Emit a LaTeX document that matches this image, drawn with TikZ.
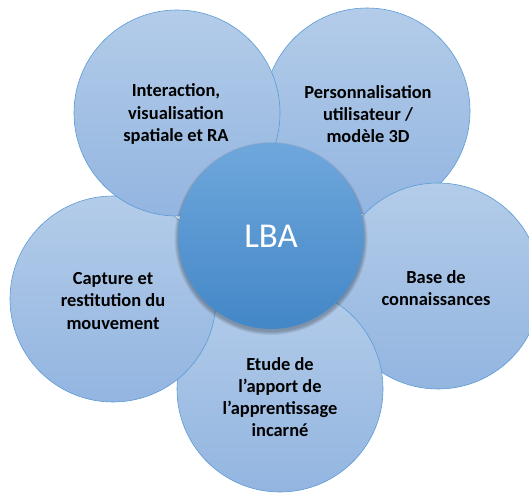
\documentclass[tikz,border=0pt]{standalone}
\usepackage{fontspec}
\setmainfont{Carlito}

\definecolor{petaltop}{HTML}{B3CCE9}
\definecolor{petalbot}{HTML}{93B5E0}
\definecolor{petalline}{HTML}{5B9BD5}
\definecolor{hubtop}{HTML}{6FA7DC}
\definecolor{hubbot}{HTML}{4387C7}

\tikzset{
  petal/.style={circle, minimum size=206bp, inner sep=0pt, draw=petalline,
    line width=0.6pt, top color=petaltop, bottom color=petalbot},
  hub/.style={circle, minimum size=186bp, inner sep=0pt,
    top color=hubtop, bottom color=hubbot, text=white,
    font=\fontsize{35}{40}\selectfont},
  ptext/.style={align=center, inner sep=0pt, text=black,
    font=\fontsize{18.5}{22.3}\selectfont\bfseries},
}

\begin{document}
\begin{tikzpicture}[x=1bp,y=-1bp]
                \useasboundingbox (0,0) rectangle (529,493);
                \clip (0,0) rectangle (529,493);

                % outer circles, back to front
                \node[petal] (perso) at (367,111) {};
                \node[petal] (base) at (438,286) {};
                \node[petal] (etude) at (280,389) {};
                \node[petal] (capture) at (113,299) {};
                \node[petal] (inter) at (177,113) {};

                % soft shadow under the hub
                \foreach \r in {1,...,5}
                    \fill[black,opacity=0.06] (271,238.5) circle (92.5+\r*0.8);

                \node[hub] (lba) at (271,236) {LBA};

                \node[ptext] (inter-t) at (176,114) {Interaction,\\visualisation\\spatiale et RA};
                \node[ptext] (perso-t) at (368,114) {Personnalisation\\utilisateur /\\modèle 3D};
                \node[ptext] (base-t) at (436,288) {Base de\\connaissances};
                \node[ptext] (capture-t) at (113,301) {Capture et\\restitution du\\mouvement};
                \node[ptext] (etude-t) at (280,397) {Etude de\\l’apport de\\l’apprentissage\\incarné};
            \end{tikzpicture}
\end{document}
